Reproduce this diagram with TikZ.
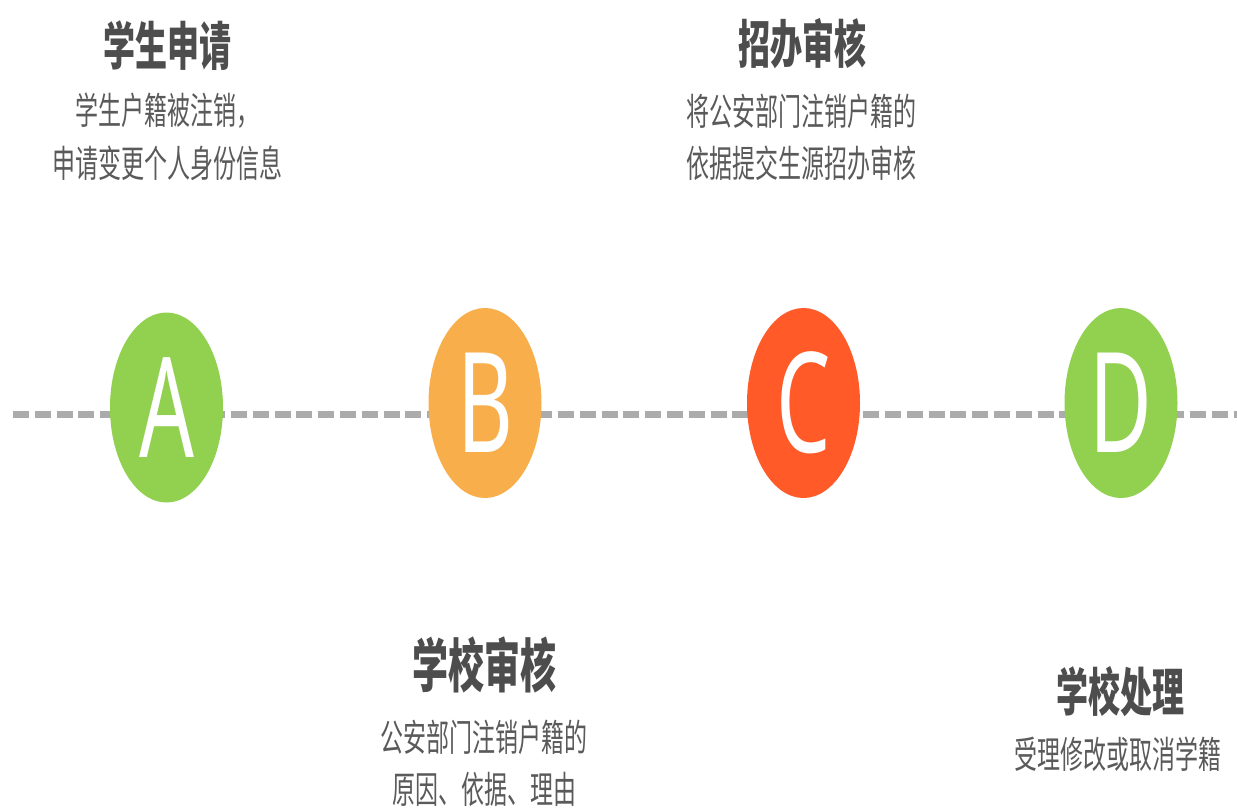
\documentclass[tikz,border=0pt]{standalone}
\usepackage{fontspec}
\usepackage{graphicx}
\usetikzlibrary{shapes.geometric}
\newfontfamily\cjk{Noto Sans CJK SC}
\newfontfamily\letterfont{Noto Sans}
\newcommand\vst[1]{\scalebox{1}[1.62]{#1}}
\definecolor{cgreen}{HTML}{92D050}
\definecolor{corange}{HTML}{F8AE4A}
\definecolor{cred}{HTML}{FF5A28}
\definecolor{ctitle}{HTML}{4D4D4D}
\definecolor{csub}{HTML}{5A5A5A}
\definecolor{cdash}{HTML}{ABABAB}
\begin{document}
\begin{tikzpicture}[x=1pt,y=-1pt,
  stepdot/.style={ellipse,minimum width=113pt,minimum height=190pt,inner sep=0pt,text=white,
    font=\letterfont\fontsize{86}{86}\selectfont},
  titletext/.style={inner sep=0pt,text=ctitle,font=\cjk\bfseries\fontsize{32}{32}\selectfont},
  bigtitletext/.style={titletext,font=\cjk\bfseries\fontsize{36}{36}\selectfont},
  subtext/.style={inner sep=0pt,text=csub,font=\cjk\fontsize{23}{23}\selectfont},
  timeline/.style={draw=cdash,line width=7.6pt,dash pattern=on 16pt off 5.8pt}]
\useasboundingbox (0,0) rectangle (1237,807);
\coordinate (L) at (13,414.5);
\coordinate (R) at (1237,414.5);
\draw[timeline] (L) -- (R);
\node[stepdot,fill=cgreen] (A) at (166.5,407.5) {\vst{A}};
\node[stepdot,fill=corange] (B) at (485,403) {\vst{B}};
\node[stepdot,fill=cred] (C) at (803.5,403) {\vst{C}};
\node[stepdot,fill=cgreen] (D) at (1121,403) {\vst{D}};
% A texts
\node[titletext] (tA) at (167,46) {\vst{学生申请}};
\node[subtext] (sA1) at (167,111) {\vst{学生户籍被注销，}};
\node[subtext] (sA2) at (167,163) {\vst{申请变更个人身份信息}};
% C texts
\node[titletext] (tC) at (802,44) {\vst{招办审核}};
\node[subtext] (sC1) at (801,111) {\vst{将公安部门注销户籍的}};
\node[subtext] (sC2) at (801,163) {\vst{依据提交生源招办审核}};
% B texts
\node[bigtitletext] (tB) at (484,665) {\vst{学校审核}};
\node[subtext] (sB1) at (484,737) {\vst{公安部门注销户籍的}};
\node[subtext] (sB2) at (484,789) {\vst{原因、依据、理由}};
% D texts
\node[titletext] (tD) at (1120,692) {\vst{学校处理}};
\node[subtext] (sD1) at (1118,754) {\vst{受理修改或取消学籍}};
\end{tikzpicture}
\end{document}
